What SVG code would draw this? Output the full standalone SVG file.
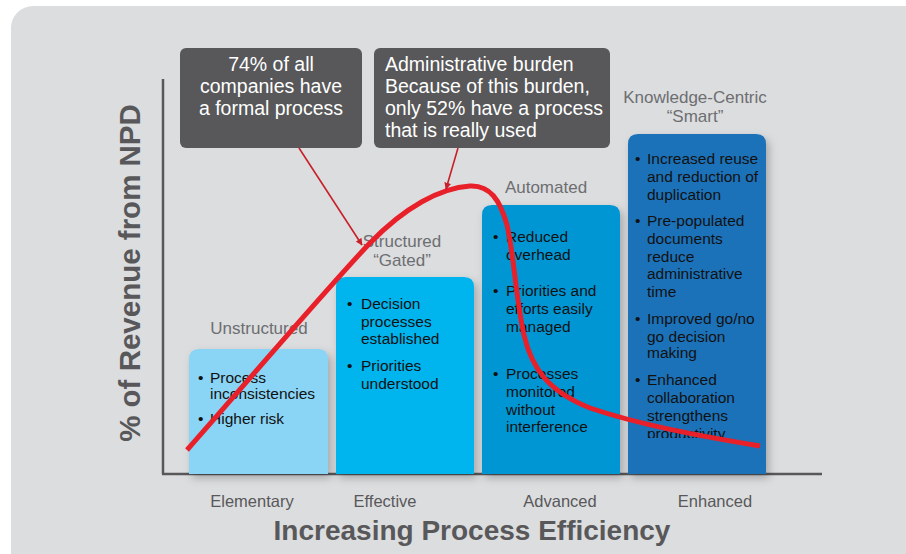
<svg xmlns="http://www.w3.org/2000/svg" width="906" height="554" viewBox="0 0 906 554">
<defs>
<style>
.t{font-family:"Liberation Sans",Arial,sans-serif}
.call{fill:#58585a}
.ct{font-size:19.5px;fill:#ffffff}
.stage{font-size:17px;fill:#6d6e71;text-anchor:middle}
.cat{font-size:16.5px;fill:#58585a;text-anchor:middle}
.bt{font-size:15.5px;fill:#111111}
.ax{stroke:#58585a;stroke-width:2.5;fill:none}
.lead{stroke:#c8202a;stroke-width:1.6;fill:none}
</style>
<marker id="ah" viewBox="0 0 10 10" refX="9" refY="5" markerWidth="7" markerHeight="7" orient="auto" markerUnits="userSpaceOnUse">
<path d="M0,0 L10,5 L0,10 z" fill="#c8202a"/>
</marker>
<filter id="sh" x="-10%" y="-10%" width="125%" height="125%">
<feDropShadow dx="3" dy="4" stdDeviation="4" flood-color="#000" flood-opacity="0.25"/>
</filter>
<clipPath id="clipP"><rect x="600" y="120" width="200" height="318"/></clipPath>
</defs>
<rect width="906" height="554" fill="#ffffff"/>
<rect x="11" y="6" width="920" height="580" rx="22" fill="#dcdddf"/>

<g id="axes">
<line class="ax" x1="163" y1="79" x2="163" y2="474"/>
<line class="ax" x1="162" y1="474" x2="822" y2="474"/>
<text class="t" transform="translate(140,273) rotate(-90)" text-anchor="middle" font-size="29.5" font-weight="bold" fill="#58585a">% of Revenue from NPD</text>
<text class="t" x="472" y="540" text-anchor="middle" font-size="28" font-weight="bold" fill="#58585a">Increasing Process Efficiency</text>
<text class="t cat" x="252" y="507">Elementary</text>
<text class="t cat" x="385" y="507">Effective</text>
<text class="t cat" x="560" y="507">Advanced</text>
<text class="t cat" x="715" y="507">Enhanced</text>
</g>

<g id="unstructured">
<text class="t stage" x="259" y="334">Unstructured</text>
<path d="M189,474 V359 Q189,349 199,349 H318 Q328,349 328,359 V474 Z" fill="#8ad4f5" filter="url(#sh)"/>
<text class="t bt"><tspan x="198" y="383">•</tspan><tspan x="210" y="383">Process</tspan><tspan x="210" y="399">inconsistencies</tspan><tspan x="198" y="424">•</tspan><tspan x="210" y="424">Higher risk</tspan></text>
</g>

<g id="structured">
<text class="t stage" x="402" y="247">Structured</text>
<text class="t stage" x="402" y="266">“Gated”</text>
<path d="M336,474 V287 Q336,277 346,277 H464 Q474,277 474,287 V474 Z" fill="#00b4ee" filter="url(#sh)"/>
<text class="t bt"><tspan x="347" y="309">•</tspan><tspan x="361" y="309">Decision</tspan><tspan x="361" y="327">processes</tspan><tspan x="361" y="344">established</tspan><tspan x="347" y="371">•</tspan><tspan x="361" y="371">Priorities</tspan><tspan x="361" y="389">understood</tspan></text>
</g>

<g id="automated">
<text class="t stage" x="546" y="193">Automated</text>
<path d="M482,474 V215 Q482,205 492,205 H610 Q620,205 620,215 V474 Z" fill="#0096d4" filter="url(#sh)"/>
<text class="t bt"><tspan x="493" y="242">•</tspan><tspan x="506" y="242">Reduced</tspan><tspan x="506" y="260">overhead</tspan><tspan x="493" y="296">•</tspan><tspan x="506" y="296">Priorities and</tspan><tspan x="506" y="314">efforts easily</tspan><tspan x="506" y="332">managed</tspan><tspan x="493" y="379">•</tspan><tspan x="506" y="379">Processes</tspan><tspan x="506" y="397">monitored</tspan><tspan x="506" y="415">without</tspan><tspan x="506" y="432">interference</tspan></text>
</g>

<g id="smart">
<text class="t stage" x="695" y="103">Knowledge-Centric</text>
<text class="t stage" x="695" y="122">“Smart”</text>
<path d="M628,474 V144 Q628,134 638,134 H756 Q766,134 766,144 V474 Z" fill="#1a72b9" filter="url(#sh)"/>
<text class="t bt" clip-path="url(#clipP)"><tspan x="635" y="164">•</tspan><tspan x="647" y="164">Increased reuse</tspan><tspan x="647" y="182">and reduction of</tspan><tspan x="647" y="200">duplication</tspan><tspan x="635" y="226">•</tspan><tspan x="647" y="226">Pre-populated</tspan><tspan x="647" y="244">documents</tspan><tspan x="647" y="262">reduce</tspan><tspan x="647" y="279">administrative</tspan><tspan x="647" y="297">time</tspan><tspan x="635" y="324">•</tspan><tspan x="647" y="324">Improved go/no</tspan><tspan x="647" y="342">go decision</tspan><tspan x="647" y="358">making</tspan><tspan x="635" y="385">•</tspan><tspan x="647" y="385">Enhanced</tspan><tspan x="647" y="403">collaboration</tspan><tspan x="647" y="421">strengthens</tspan><tspan x="647" y="439">productivity</tspan></text>
</g>

<g id="callout1">
<rect class="call" x="180" y="48" width="182" height="100" rx="6"/>
<text class="t ct" text-anchor="middle"><tspan x="271" y="71">74% of all</tspan><tspan x="271" y="93">companies have</tspan><tspan x="271" y="115">a formal process</tspan></text>
</g>

<g id="callout2">
<rect class="call" x="374" y="48" width="236" height="100" rx="6"/>
<text class="t ct"><tspan x="385" y="71">Administrative burden</tspan><tspan x="385" y="93">Because of this burden,</tspan><tspan x="385" y="115">only 52% have a process</tspan><tspan x="385" y="137">that is really used</tspan></text>
</g>

<g id="connectors">
<path d="M187,450 C260,367 330,285 370,243 C405,207 440,188 470,186 C490,185 500,200 507,225 C514,255 516,300 524,335 C532,370 550,392 590,408 C640,425 700,436 760,446" fill="none" stroke="#e8202a" stroke-width="5" stroke-linecap="butt"/>
<line class="lead" x1="299" y1="148" x2="362" y2="245" marker-end="url(#ah)"/>
<line class="lead" x1="458" y1="148" x2="446" y2="189" marker-end="url(#ah)"/>
</g>
</svg>
